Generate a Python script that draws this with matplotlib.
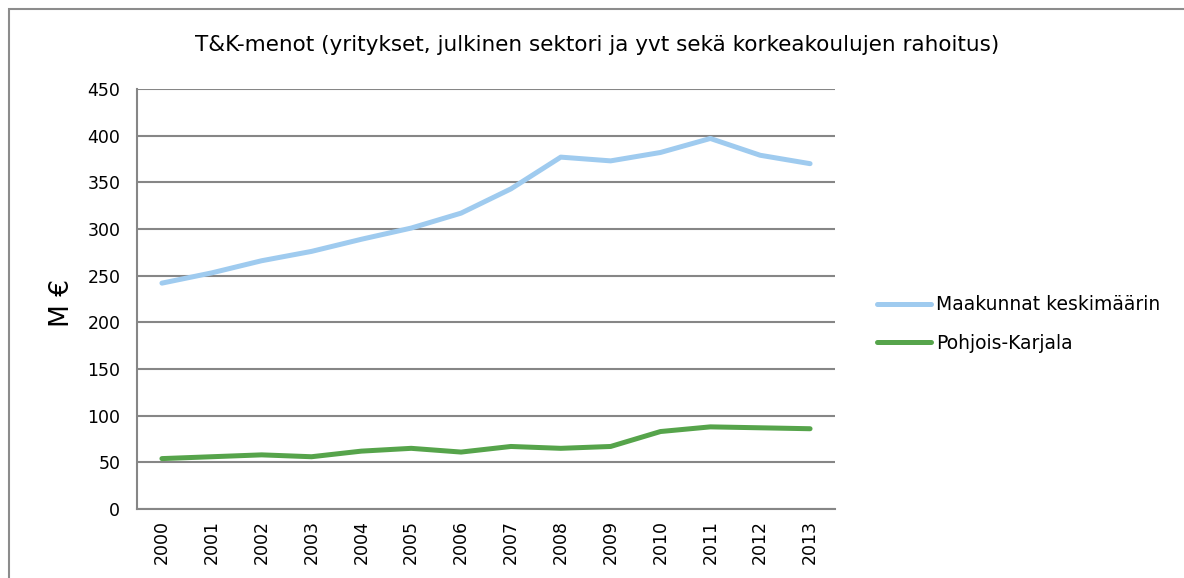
import matplotlib
matplotlib.use("Agg")
import matplotlib.pyplot as plt
from matplotlib.patches import Rectangle

years = [str(y) for y in range(2000, 2014)]
maakunnat = [242, 253, 266, 276, 289, 301, 317, 343, 377, 373, 382, 397, 379, 370]
pohjois_karjala = [54, 56, 58, 56, 62, 65, 61, 67, 65, 67, 83, 88, 87, 86]
series_labels = ["Maakunnat keskimäärin", "Pohjois-Karjala"]
title = "T&K-menot (yritykset, julkinen sektori ja yvt sekä korkeakoulujen rahoitus)"
yticks = list(range(0, 451, 50))

plt.rcParams['font.family'] = ['DejaVu Sans']
W, H = 1184, 578
fig = plt.figure(figsize=(W / 100, H / 100), dpi=100)

# outer chart border (left & top visible)
fig.patches.append(Rectangle((9 / W, -0.1), 1.2, (H - 9) / H + 0.1,
                             transform=fig.transFigure, fill=False,
                             edgecolor="#8c8c8c", linewidth=1.5))

ax = fig.add_axes([137 / W, (H - 509) / H, (835 - 137) / W, (509 - 89) / H])
x = list(range(len(years)))
ax.plot(x, maakunnat, color="#9fcbef", linewidth=3.6, label=series_labels[0],
        solid_capstyle="round", solid_joinstyle="round")
ax.plot(x, pohjois_karjala, color="#56a44b", linewidth=3.6, label=series_labels[1],
        solid_capstyle="round", solid_joinstyle="round")

ax.set_xlim(-0.5, len(years) - 0.5)
ax.set_ylim(0, 450)
ax.set_yticks(yticks)
ax.set_yticklabels([str(v) for v in yticks], fontsize=12.5)
ax.set_xticks(x)
ax.set_xticklabels(years, rotation=90, fontsize=12.5)
ax.tick_params(axis="both", length=0, colors="#000000")
ax.tick_params(axis="y", pad=12)
ax.tick_params(axis="x", pad=8)
ax.grid(axis="y", color="#868686", linewidth=1.5)
ax.set_axisbelow(True)
for s in ["top", "right"]:
    ax.spines[s].set_visible(False)
for s in ["left", "bottom"]:
    ax.spines[s].set_color("#868686")
    ax.spines[s].set_linewidth(1.5)

fig.text(62 / W, 1 - 303 / H, "M €", rotation=90, fontsize=19,
         ha="center", va="center")
fig.text(597 / W, 1 - 45 / H, title, fontsize=15.5, ha="center", va="center")

leg = ax.legend(loc="center left", bbox_to_anchor=(860 / W, 1 - 324 / H),
                bbox_transform=fig.transFigure, frameon=False, fontsize=13.5,
                handlelength=2.9, handletextpad=0.25, labelspacing=1.05)

fig.savefig("out.png", dpi=100)
